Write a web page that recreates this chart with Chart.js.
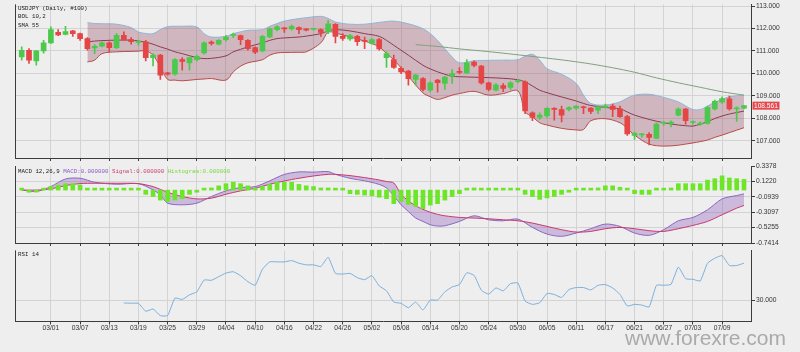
<!DOCTYPE html>
<html>
<head>
<meta charset="utf-8">
<script src="https://cdn.jsdelivr.net/npm/chart.js@4.4.1/dist/chart.umd.min.js"></script>
<style>
  html, body { margin: 0; padding: 0; background: #eeeeee; }
  #wrap { position: relative; width: 800px; height: 352px; overflow: hidden; }
  #wrap canvas { position: absolute; left: 0; }
  .lbl { position: absolute; left: 18px; font-family: "Liberation Mono", "DejaVu Sans Mono", monospace; font-size: 5.8px; line-height: 8.4px; color: #222; white-space: pre; }
  #wm { position: absolute; left: 625px; top: 327px; font-family: "Liberation Sans", Arial, sans-serif; font-size: 21px; line-height: 21px; color: #aaaaaa; }
</style>
</head>
<body>
<div id="wrap">
  <canvas id="priceChart" width="800" height="163" style="top:0"></canvas>
  <canvas id="macdChart" width="800" height="88" style="top:160px"></canvas>
  <canvas id="rsiChart" width="800" height="100" style="top:246px"></canvas>
  <div class="lbl" style="top:4.8px">USDJPY (Daily, #100)<br>BOL 10,2<br>SMA 55</div>
  <div class="lbl" style="top:167.5px">MACD 12,26,9 <span style="color:#8a58c8">MACD:0.000000</span> <span style="color:#c83c70">Signal:0.000000</span> <span style="color:#78d83c">Histogram:0.000000</span></div>
  <div class="lbl" style="top:251px">RSI 14</div>
  <div id="wm">www.forexre.com</div>
</div>
<script>
// x positions are bar indices 0..99 (25 Feb - 12 Jul, trading days)
const tickIdx = [4, 8, 12, 16, 20, 24, 28, 32, 36, 40, 44, 48, 52, 56, 60, 64, 68, 72, 76, 80, 84, 88, 92, 96];
const tickLabels = ['03/01', '03/07', '03/13', '03/19', '03/25', '03/29', '04/04', '04/10', '04/16', '04/22', '04/26', '05/02',
  '05/08', '05/14', '05/20', '05/24', '05/30', '06/05', '06/11', '06/17', '06/21', '06/27', '07/03', '07/09'];

const opens = [110.73, 111.03, 110.56, 111.00, 111.36, 111.83, 111.74, 111.89, 111.77, 111.55,
  111.13, 111.21, 111.36, 111.15, 111.70, 111.50, 111.38, 111.40, 110.70, 110.81,
  110.02, 109.96, 110.61, 110.47, 110.61, 110.91, 111.39, 111.30, 111.50, 111.69,
  111.68, 111.47, 111.15, 111.00, 111.62, 111.95, 112.02, 111.98, 112.04, 111.98,
  111.96, 111.95, 111.85, 112.19, 111.65, 111.53, 111.65, 111.47, 111.33, 111.50,
  110.70, 110.61, 110.23, 110.10, 109.73, 109.77, 109.25, 109.70, 109.55, 109.87,
  110.09, 110.02, 110.50, 110.32, 109.58, 109.25, 109.46, 109.37, 109.63, 109.62,
  108.24, 108.04, 108.10, 108.44, 108.39, 108.39, 108.45, 108.50, 108.45, 108.36,
  108.48, 108.54, 108.42, 108.07, 107.24, 107.26, 107.28, 107.10, 107.78, 107.77,
  108.14, 108.41, 107.81, 107.74, 107.77, 108.42, 108.72, 108.87, 108.42, 108.45];
const highs = [111.18, 111.10, 111.03, 111.47, 112.07, 111.95, 112.10, 111.92, 111.80, 111.59,
  111.28, 111.40, 111.40, 111.77, 111.85, 111.59, 111.47, 111.47, 110.88, 110.85,
  110.05, 110.66, 110.70, 110.73, 110.81, 111.40, 111.45, 111.50, 111.70, 111.80,
  111.71, 111.50, 111.18, 111.70, 112.03, 112.13, 112.04, 112.16, 112.07, 111.98,
  112.00, 111.99, 112.36, 112.22, 111.77, 111.74, 111.70, 111.62, 111.55, 111.56,
  110.96, 110.81, 110.29, 110.14, 109.96, 109.81, 109.63, 109.73, 109.87, 110.17,
  110.26, 110.61, 110.56, 110.36, 109.61, 109.55, 109.55, 109.63, 109.73, 109.67,
  108.29, 108.24, 108.48, 108.48, 108.54, 108.51, 108.57, 108.54, 108.48, 108.57,
  108.63, 108.63, 108.54, 108.13, 107.39, 107.33, 107.36, 107.80, 107.86, 107.89,
  108.47, 108.44, 107.89, 107.84, 108.54, 108.81, 108.96, 108.99, 108.51, 108.57];
const lows = [110.59, 110.44, 110.36, 110.90, 111.33, 111.68, 111.71, 111.65, 111.47, 111.03,
  110.88, 111.18, 110.96, 111.10, 111.47, 111.30, 111.26, 110.56, 110.33, 109.73,
  109.92, 109.92, 110.14, 110.14, 110.56, 110.85, 111.26, 111.27, 111.44, 111.59,
  111.28, 111.03, 110.88, 110.96, 111.59, 111.89, 111.83, 111.92, 111.77, 111.89,
  111.92, 111.65, 111.77, 111.36, 111.47, 111.47, 111.25, 111.10, 111.30, 111.03,
  110.26, 110.22, 109.99, 109.48, 109.48, 109.22, 109.18, 109.16, 109.28, 109.55,
  109.99, 109.99, 110.29, 109.52, 109.22, 109.22, 109.18, 109.28, 109.58, 108.21,
  107.89, 107.95, 108.04, 107.92, 107.84, 108.33, 108.39, 108.21, 108.21, 108.21,
  108.45, 108.07, 108.04, 107.24, 107.06, 107.15, 106.81, 107.09, 107.68, 107.62,
  108.10, 107.74, 107.74, 107.68, 107.74, 108.36, 108.66, 108.36, 107.86, 108.42];
const closes = [111.03, 110.59, 111.00, 111.36, 111.95, 111.71, 111.86, 111.77, 111.55, 111.10,
  111.21, 111.36, 111.15, 111.70, 111.50, 111.41, 111.40, 110.70, 110.81, 109.92,
  109.96, 110.61, 110.53, 110.70, 110.76, 111.36, 111.33, 111.47, 111.62, 111.70,
  111.50, 111.10, 110.94, 111.65, 111.99, 112.07, 111.98, 112.10, 111.95, 111.92,
  111.97, 111.83, 112.21, 111.65, 111.56, 111.68, 111.41, 111.42, 111.50, 111.09,
  110.88, 110.26, 110.07, 109.76, 109.92, 109.28, 109.58, 109.59, 109.84, 109.99,
  110.04, 110.47, 110.35, 109.58, 109.28, 109.49, 109.33, 109.58, 109.67, 108.33,
  108.04, 108.14, 108.44, 108.39, 108.14, 108.48, 108.54, 108.47, 108.30, 108.51,
  108.54, 108.39, 108.07, 107.30, 107.33, 107.28, 107.15, 107.74, 107.80, 107.83,
  108.41, 107.89, 107.84, 107.77, 108.48, 108.75, 108.88, 108.42, 108.45, 108.561];

// Bollinger (10,2) read at these bar indices
const bolIdx = [9, 10, 11, 13, 15, 16, 17, 18, 19, 20, 21, 22, 24, 25, 26, 28, 29, 30, 31, 33, 34, 35, 36, 38, 39,
  41, 42, 43, 45, 47, 49, 50, 51, 53, 55, 56, 57, 58, 59, 60, 62, 64, 66, 68, 69, 70, 71, 72, 74, 76,
  77, 78, 80, 82, 83, 84, 86, 88, 90, 91, 92, 93, 94, 95, 96, 97, 99];
const bolUp = [112.26, 112.22, 112.21, 112.19, 112.04, 111.84, 111.78, 111.77, 111.95, 112.08,
  112.10, 112.10, 112.07, 111.77, 111.62, 111.65, 111.77, 111.85, 111.92, 111.95,
  112.10, 112.22, 112.33, 112.44, 112.48, 112.54, 112.45, 112.29, 112.19, 112.19,
  112.27, 112.31, 112.33, 112.21, 111.99, 111.77, 111.47, 111.10, 110.73, 110.47,
  110.56, 110.58, 110.59, 110.61, 110.76, 110.85, 110.59, 110.21, 109.96, 109.55,
  109.03, 108.66, 108.59, 108.73, 108.90, 109.03, 109.07, 108.93, 108.73, 108.55,
  108.39, 108.39, 108.54, 108.72, 108.84, 108.96, 109.03];
const bolMid = [111.40, 111.44, 111.46, 111.48, 111.48, 111.44, 111.39, 111.30, 111.18, 111.08,
  110.96, 110.88, 110.70, 110.66, 110.67, 110.78, 110.96, 111.07, 111.18, 111.36,
  111.47, 111.55, 111.58, 111.62, 111.66, 111.77, 111.89, 111.95, 111.89, 111.77,
  111.65, 111.47, 111.25, 110.81, 110.36, 110.20, 110.07, 109.96, 109.87, 109.85,
  109.83, 109.81, 109.78, 109.72, 109.62, 109.44, 109.25, 109.14, 108.95, 108.77,
  108.66, 108.57, 108.48, 108.42, 108.28, 108.14, 107.95, 107.80, 107.70, 107.67,
  107.65, 107.74, 107.85, 107.99, 108.10, 108.19, 108.32];
const bolLow = [110.51, 110.59, 110.88, 110.96, 110.98, 110.99, 111.00, 110.81, 110.29, 109.73,
  109.70, 109.67, 109.73, 109.75, 109.77, 109.70, 110.07, 110.32, 110.47, 110.61,
  110.81, 110.91, 110.93, 110.94, 110.96, 111.36, 111.84, 111.80, 111.62, 111.44,
  111.18, 110.88, 110.61, 109.87, 109.13, 108.96, 108.84, 108.92, 109.03, 109.10,
  109.20, 109.03, 109.10, 109.22, 108.29, 108.07, 107.80, 107.70, 107.55, 107.48,
  107.50, 107.89, 107.98, 107.80, 107.55, 107.25, 106.85, 106.76, 106.80, 106.85,
  106.90, 106.96, 107.03, 107.15, 107.25, 107.36, 107.58];

const smaIdx = [54, 57, 60, 63, 66, 69, 72, 75, 78, 81, 84, 87, 90, 93, 96, 99];
const sma55 = [111.28, 111.20, 111.09, 111.00, 110.90, 110.79, 110.68, 110.56, 110.42, 110.25,
  110.05, 109.80, 109.58, 109.38, 109.18, 109.03];

// MACD (12,26,9)
const macdIdx = [0, 2, 4, 6, 8, 10, 13, 16, 18, 19, 20, 22, 24, 26, 28, 30, 32, 34, 36, 38, 40, 42, 43, 45, 47,
  49, 50, 51, 52, 53, 54, 55, 56, 57, 58, 60, 62, 64, 66, 68, 70, 72, 74, 76, 78, 80, 82, 84, 86, 88,
  90, 92, 94, 96, 98, 99];
const macdLine = [0.003, -0.02, 0.05, 0.156, 0.166, 0.11, 0.082, 0.09, 0.003, -0.067,
  -0.183, -0.206, -0.183, -0.09, -0.011, 0.035, 0.049, 0.13, 0.22, 0.255,
  0.252, 0.259, 0.221, 0.165, 0.13, 0.08, 0.03, -0.08, -0.206, -0.30,
  -0.392, -0.439, -0.486, -0.504, -0.50, -0.439, -0.36, -0.416, -0.43, -0.406,
  -0.523, -0.616, -0.648, -0.602, -0.541, -0.476, -0.509, -0.602, -0.634, -0.555,
  -0.43, -0.383, -0.276, -0.123, -0.076, -0.053];
const signalLine = [0.0, 0.0, 0.017, 0.063, 0.091, 0.096, 0.096, 0.091, 0.049, 0.01,
  -0.03, -0.09, -0.123, -0.113, -0.058, -0.011, 0.026, 0.082, 0.128, 0.166,
  0.198, 0.221, 0.221, 0.203, 0.175, 0.142, 0.12, 0.10, -0.06, -0.15,
  -0.22, -0.27, -0.31, -0.34, -0.36, -0.383, -0.392, -0.402, -0.416, -0.43,
  -0.462, -0.509, -0.555, -0.588, -0.579, -0.541, -0.523, -0.541, -0.569, -0.579,
  -0.541, -0.495, -0.439, -0.346, -0.253, -0.216];
const histogram = [0.01, -0.03, -0.02, 0.01, 0.05, 0.07, 0.09, 0.09, 0.07, 0.02,
  0.01, 0.01, 0.01, 0.01, 0.01, 0.01, 0.01, -0.06, -0.09, -0.14,
  -0.16, -0.14, -0.12, -0.06, -0.03, 0.01, 0.03, 0.06, 0.09, 0.11,
  0.09, 0.06, 0.03, 0.05, 0.08, 0.11, 0.11, 0.11, 0.08, 0.06,
  0.05, 0.03, 0.03, 0.01, 0.01, -0.05, -0.06, -0.07, -0.08, -0.10,
  -0.12, -0.19, -0.16, -0.20, -0.23, -0.26, -0.21, -0.19, -0.14, -0.09,
  -0.05, 0.01, 0.03, 0.01, 0.01, 0.01, 0.01, 0.01, 0.01, -0.06,
  -0.09, -0.13, -0.11, -0.09, -0.06, -0.03, 0.01, 0.01, 0.01, 0.03,
  0.06, 0.06, 0.04, 0.01, -0.05, -0.06, -0.06, 0.01, 0.01, 0.03,
  0.09, 0.09, 0.09, 0.09, 0.14, 0.16, 0.20, 0.17, 0.16, 0.15];

// RSI 14, first 14 bars empty
const rsi = [null, null, null, null, null, null, null, null, null, null, null, null, null, null,
  26.0, 25.7, 25.5, 14.4, 17.6, 8.3, 8.3, 32.9, 31.0, 37.5,
  41.7, 58.3, 57.9, 63.0, 68.1, 69.9, 64.4, 56.0, 50.9, 73.6,
  83.8, 83.8, 83.8, 85.6, 81.9, 79.6, 79.6, 77.3, 90.3, 67.6,
  66.7, 67.6, 61.6, 58.8, 64.4, 50.0, 43.1, 27.3, 25.5, 19.4,
  27.3, 16.2, 30.1, 30.1, 41.7, 48.6, 51.9, 68.5, 64.8, 44.0,
  38.4, 47.2, 43.1, 53.2, 54.2, 28.7, 24.1, 26.4, 39.4, 38.0,
  33.8, 44.9, 47.7, 47.7, 44.4, 50.9, 51.9, 47.2, 38.0, 21.8,
  24.1, 23.1, 20.4, 50.9, 50.9, 52.3, 76.4, 60.2, 59.3, 57.0,
  82.0, 88.9, 92.6, 78.7, 78.7, 82.0];

const priceTicks = [107, 108, 109, 110, 111, 112, 113];
const macdTicks = [0.3378, 0.1220, -0.0939, -0.3097, -0.5255, -0.7414];
const rsiTicks = [30];

const axisCol = '#3c3c3c';
const gridCol = '#d3d3d3';
const upCol = '#4cc94c';
const downCol = '#e54545';
const tickFont = { family: '"Liberation Sans", Arial, sans-serif', size: 6.7, lineHeight: 1 };

const pts = (idx, vals) => idx.map((x, k) => ({ x: x, y: vals[k] }));
const candleCol = closes.map((c, i) => (c >= opens[i] ? upCol : downCol));

function panelOptions(p) {
  return {
    responsive: false,
    animation: false,
    events: [],
    layout: { padding: { left: 15, top: p.padTop, right: 0, bottom: 0 } },
    plugins: { legend: { display: false }, tooltip: { enabled: false } },
    scales: {
      x: {
        type: 'linear', min: -0.92, max: 99.96, offset: false,
        afterBuildTicks: s => { s.ticks = tickIdx.map(v => ({ value: v })); },
        afterFit: s => { s.height = p.xH; },
        grid: { color: gridCol, offset: false, tickColor: axisCol, tickLength: 3 },
        border: { color: axisCol },
        ticks: {
          display: p.showX, autoSkip: false, maxRotation: 0, padding: 0, color: '#333', font: tickFont,
          callback: (v, i) => tickLabels[i]
        }
      },
      y: {
        position: 'right', min: p.yMin, max: p.yMax,
        afterBuildTicks: s => { s.ticks = p.yTicks.map(v => ({ value: v })); },
        afterFit: s => { s.width = 49; },
        grid: {
          color: c => (c.tick && c.tick.value >= p.yMax - 1e-6 ? 'rgba(0,0,0,0)' : gridCol),
          tickColor: axisCol, tickLength: 4
        },
        border: { color: axisCol },
        ticks: { color: '#333', padding: 1, font: tickFont, callback: v => v.toFixed(p.digits) }
      }
    }
  };
}

const leftBorder = {
  id: 'leftBorder',
  afterDraw(chart) {
    const { ctx, chartArea: a } = chart;
    ctx.save();
    ctx.strokeStyle = axisCol;
    ctx.lineWidth = 1;
    ctx.beginPath();
    ctx.moveTo(Math.round(a.left) + 0.5, a.top);
    ctx.lineTo(Math.round(a.left) + 0.5, a.bottom);
    ctx.stroke();
    ctx.restore();
  }
};

const lastPrice = {
  id: 'lastPrice',
  afterDraw(chart) {
    const last = closes[closes.length - 1];
    const y = chart.scales.y.getPixelForValue(last);
    const ctx = chart.ctx;
    ctx.save();
    ctx.fillStyle = '#e5484d';
    ctx.fillRect(752.5, y - 4, 27, 8);
    ctx.fillStyle = '#ffffff';
    ctx.font = '6.6px "Liberation Sans", Arial, sans-serif';
    ctx.textBaseline = 'middle';
    ctx.fillText(last.toFixed(3), 754, y + 0.5);
    ctx.restore();
  }
};

// Velas + Bollinger + SMA
new Chart(document.getElementById('priceChart'), {
  type: 'bar',
  data: {
    datasets: [
      {
        data: opens.map((o, i) => ({ x: i, y: [o, closes[i]] })),
        backgroundColor: candleCol, barThickness: 5, minBarLength: 1, grouped: false, order: 0
      },
      {
        data: lows.map((l, i) => ({ x: i, y: [l, highs[i]] })),
        backgroundColor: candleCol, barThickness: 1, grouped: false, order: 1
      },
      {
        type: 'line', data: pts(bolIdx, bolMid), borderColor: '#8c3a50', borderWidth: 1,
        pointRadius: 0, tension: 0.35, fill: false, order: 2
      },
      {
        type: 'line', data: pts(smaIdx, sma55), borderColor: '#7f9f7f', borderWidth: 1,
        pointRadius: 0, tension: 0.3, fill: false, order: 2
      },
      {
        type: 'line', data: pts(bolIdx, bolUp), borderColor: '#8cb6d6', borderWidth: 1,
        pointRadius: 0, tension: 0.35, order: 4,
        fill: { target: 5, above: 'rgba(150,75,100,0.34)', below: 'rgba(150,75,100,0.34)' }
      },
      {
        type: 'line', data: pts(bolIdx, bolLow), borderColor: '#b84a4a', borderWidth: 1,
        pointRadius: 0, tension: 0.35, fill: false, order: 3
      }
    ]
  },
  options: panelOptions({ padTop: 4, xH: 5, showX: false, yMin: 106.23, yMax: 113.075, yTicks: priceTicks, digits: 3 }),
  plugins: [leftBorder, lastPrice]
});

// MACD
new Chart(document.getElementById('macdChart'), {
  type: 'bar',
  data: {
    datasets: [
      {
        data: histogram.map((h, i) => ({ x: i, y: h })),
        backgroundColor: '#6ee628', barThickness: 4, minBarLength: 2, grouped: false, order: 0
      },
      {
        type: 'line', data: pts(macdIdx, macdLine), borderColor: '#8a66c0', borderWidth: 1,
        pointRadius: 0, tension: 0.3, order: 3,
        fill: { target: 2, above: 'rgba(140,90,190,0.35)', below: 'rgba(140,90,190,0.35)' }
      },
      {
        type: 'line', data: pts(macdIdx, signalLine), borderColor: '#c8386c', borderWidth: 1,
        pointRadius: 0, tension: 0.3, fill: false, order: 2
      }
    ]
  },
  options: panelOptions({ padTop: 6, xH: 5, showX: false, yMin: -0.7414, yMax: 0.3378, yTicks: macdTicks, digits: 4 }),
  plugins: [leftBorder]
});

// RSI
new Chart(document.getElementById('rsiChart'), {
  type: 'line',
  data: {
    datasets: [{
      data: rsi.map((v, i) => ({ x: i, y: v })).filter(p => p.y !== null),
      borderColor: '#7aaedc', borderWidth: 1, pointRadius: 0, tension: 0.15, fill: false
    }]
  },
  options: panelOptions({ padTop: 3, xH: 24.5, showX: true, yMin: 0, yMax: 100, yTicks: rsiTicks, digits: 3 }),
  plugins: [leftBorder]
});
</script>
</body>
</html>
